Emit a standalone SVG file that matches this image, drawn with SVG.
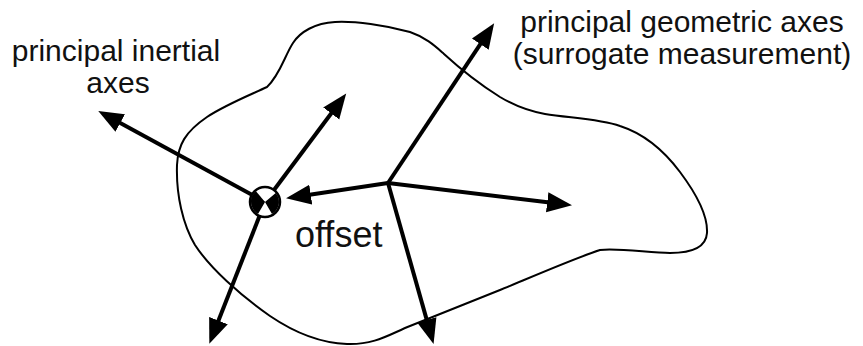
<svg xmlns="http://www.w3.org/2000/svg" width="863" height="346" viewBox="0 0 863 346">
<style>
.lbl{font-family:"Liberation Sans",Arial,sans-serif;fill:#111}
.ax{stroke:#000;stroke-width:4;fill:none;marker-end:url(#ah)}
.blob{fill:none;stroke:#000;stroke-width:2}
</style>
<defs>
<marker id="ah" markerUnits="userSpaceOnUse" markerWidth="26" markerHeight="22" viewBox="0 0 26 22" refX="13" refY="11" orient="auto">
<path d="M0,1 L25,11 L0,21 Z" fill="#000"/>
</marker>
</defs>
<rect width="863" height="346" fill="#fff"/>
<g id="body">
<path class="blob" d="M267,87 C280,75 285,55 293,43 C300,32 315,23 335,22 C355,21 385,25 410,32 C425,37 435,46 443,53 C455,64 470,78 500,97 C515,106 528,111 545,114 C570,118 600,119 620,126 C645,134 665,152 680,172 C695,192 708,215 707,233 C706,248 690,253 670,253 C650,253 620,248 600,250 C570,260 520,282 500,290 C470,302 440,314 410,326 C390,334 375,345 347,344 C320,343 295,333 270,316 C240,295 210,268 195,245 C183,225 176,195 177,165 C178,145 185,132 207,117 C225,105 250,95 267,87 Z"/>
</g>
<g id="connectors">
<line class="ax" x1="265" y1="202" x2="108.8" y2="116.8"/>
<line class="ax" x1="265" y1="202" x2="339" y2="103"/>
<line class="ax" x1="265" y1="202" x2="213.7" y2="332.7"/>
<line class="ax" x1="388" y1="183" x2="297.9" y2="196.5"/>
<line class="ax" x1="388" y1="183" x2="487.5" y2="33.3"/>
<line class="ax" x1="388" y1="183" x2="560.1" y2="203.8"/>
<line class="ax" x1="388" y1="183" x2="430.3" y2="332.4"/>
</g>
<g id="inertial-center">
<circle cx="265" cy="202" r="15" fill="#fff" stroke="#000" stroke-width="2.5"/>
<path d="M265,202 L275.7,193 A14,14 0 0 1 272,214.1 Z M265,202 L258,214.1 A14,14 0 0 1 254.3,193 Z" fill="#000"/>
<path d="M265,202 L251,202 A14,14 0 0 1 256,191.3 Z" fill="#000"/>
</g>
<g id="label-inertial">
<text class="lbl" font-size="30" text-anchor="middle" x="116" y="61">principal inertial</text>
<text class="lbl" font-size="30" text-anchor="middle" x="118" y="93">axes</text>
</g>
<g id="label-geometric">
<text class="lbl" font-size="30" text-anchor="middle" x="682" y="32">principal geometric axes</text>
<text class="lbl" font-size="30" text-anchor="middle" x="682" y="64">(surrogate measurement)</text>
</g>
<g id="label-offset">
<text class="lbl" font-size="36" x="295" y="247">offset</text>
</g>
</svg>
